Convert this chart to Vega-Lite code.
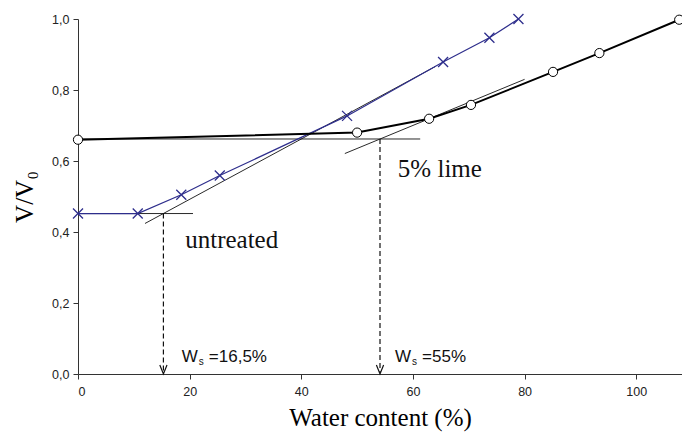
{
  "$schema": "https://vega.github.io/schema/vega-lite/v6.json",
  "width": 604,
  "height": 355,
  "autosize": "none",
  "padding": {"left": 78, "top": 19, "right": 0, "bottom": 58},
  "background": "white",
  "config": {
    "view": {"stroke": null},
    "axis": {
      "grid": false,
      "domainColor": "#333",
      "tickColor": "#333",
      "labelColor": "#222",
      "labelFont": "Liberation Sans",
      "labelFontSize": 12.5,
      "titleFont": "Liberation Serif",
      "titleFontSize": 25,
      "titleFontWeight": "normal",
      "titleColor": "#000",
      "tickSize": 5
    }
  },
  "datasets": {
    "untreated": [
      {"w": 0, "v": 0.452},
      {"w": 10.7, "v": 0.452},
      {"w": 18.5, "v": 0.505},
      {"w": 25.4, "v": 0.559},
      {"w": 48.2, "v": 0.727},
      {"w": 65.4, "v": 0.879},
      {"w": 73.7, "v": 0.947},
      {"w": 78.9, "v": 1.0}
    ],
    "lime": [
      {"w": 0, "v": 0.66},
      {"w": 50, "v": 0.68},
      {"w": 62.9, "v": 0.719},
      {"w": 70.4, "v": 0.758},
      {"w": 85.1, "v": 0.851},
      {"w": 93.4, "v": 0.904},
      {"w": 107.7, "v": 0.998}
    ],
    "tangents": [
      {"g": "u_flat", "w": 0, "v": 0.452},
      {"g": "u_flat", "w": 20.6, "v": 0.452},
      {"g": "u_slope", "w": 12.0, "v": 0.424},
      {"g": "u_slope", "w": 64.0, "v": 0.866},
      {"g": "l_flat", "w": 0, "v": 0.662},
      {"g": "l_flat", "w": 61.3, "v": 0.662},
      {"g": "l_slope", "w": 47.8, "v": 0.621},
      {"g": "l_slope", "w": 80.0, "v": 0.83}
    ],
    "drops": [
      {"g": "u", "w": 15.3, "v": 0.452},
      {"g": "u", "w": 15.3, "v": 0.005},
      {"g": "l", "w": 54.1, "v": 0.662},
      {"g": "l", "w": 54.1, "v": 0.005}
    ],
    "arrows": [
      {"w": 15.3, "v": 0},
      {"w": 54.1, "v": 0}
    ],
    "ws": [
      {"w": 18.6, "v": 0.034, "main": "W", "sub": "s", "rest": "=16,5%"},
      {"w": 56.8, "v": 0.034, "main": "W", "sub": "s", "rest": "=55%"}
    ],
    "names": [
      {"w": 19.2, "v": 0.354, "label": "untreated"},
      {"w": 57.3, "v": 0.556, "label": "5% lime"}
    ]
  },
  "encoding": {
    "x": {
      "field": "w",
      "type": "quantitative",
      "scale": {"domain": [0, 108.2], "nice": false, "zero": false},
      "axis": {
        "values": [0, 20, 40, 60, 80, 100],
        "title": "Water content (%)",
        "labelPadding": 6,
        "titlePadding": 8
      }
    },
    "y": {
      "field": "v",
      "type": "quantitative",
      "scale": {"domain": [0, 1], "nice": false},
      "axis": {
        "values": [0, 0.2, 0.4, 0.6, 0.8, 1.0],
        "labelExpr": "replace(format(datum.value, '.1f'), '.', ',')",
        "title": "V/V₀",
        "labelPadding": 4,
        "titlePadding": 14
      }
    }
  },
  "layer": [
    {
      "data": {"name": "tangents"},
      "mark": {"type": "line", "color": "#111", "strokeWidth": 0.9},
      "encoding": {"detail": {"field": "g"}}
    },
    {
      "data": {"name": "drops"},
      "mark": {"type": "line", "color": "#111", "strokeWidth": 1.2, "strokeDash": [5, 3]},
      "encoding": {"detail": {"field": "g"}}
    },
    {
      "data": {"name": "arrows"},
      "mark": {
        "type": "point",
        "shape": "M-0.4,-1L0,0L0.4,-1",
        "size": 324,
        "filled": false,
        "stroke": "#111",
        "strokeWidth": 1.2,
        "opacity": 1
      }
    },
    {
      "data": {"name": "untreated"},
      "mark": {"type": "line", "color": "#2e2e8c", "strokeWidth": 1.2}
    },
    {
      "data": {"name": "untreated"},
      "mark": {
        "type": "point",
        "shape": "M-1,-1L1,1M-1,1L1,-1",
        "size": 100,
        "filled": false,
        "stroke": "#2e2e8c",
        "strokeWidth": 1.3,
        "opacity": 1
      }
    },
    {
      "data": {"name": "lime"},
      "mark": {"type": "line", "color": "#000", "strokeWidth": 2}
    },
    {
      "data": {"name": "lime"},
      "mark": {
        "type": "point",
        "shape": "circle",
        "size": 85,
        "filled": true,
        "fill": "white",
        "stroke": "#000",
        "strokeWidth": 1,
        "opacity": 1
      }
    },
    {
      "data": {"name": "names"},
      "mark": {
        "type": "text",
        "font": "Liberation Serif",
        "fontSize": 25,
        "align": "left",
        "baseline": "alphabetic",
        "color": "#111"
      },
      "encoding": {"text": {"field": "label"}}
    },
    {
      "data": {"name": "ws"},
      "mark": {
        "type": "text",
        "font": "Liberation Sans",
        "fontSize": 17,
        "align": "left",
        "baseline": "alphabetic",
        "color": "#111"
      },
      "encoding": {"text": {"field": "main"}}
    },
    {
      "data": {"name": "ws"},
      "mark": {
        "type": "text",
        "font": "Liberation Sans",
        "fontSize": 10,
        "align": "left",
        "baseline": "alphabetic",
        "dx": 17,
        "dy": 3,
        "color": "#111"
      },
      "encoding": {"text": {"field": "sub"}}
    },
    {
      "data": {"name": "ws"},
      "mark": {
        "type": "text",
        "font": "Liberation Sans",
        "fontSize": 17,
        "align": "left",
        "baseline": "alphabetic",
        "dx": 27,
        "color": "#111"
      },
      "encoding": {"text": {"field": "rest"}}
    }
  ]
}
